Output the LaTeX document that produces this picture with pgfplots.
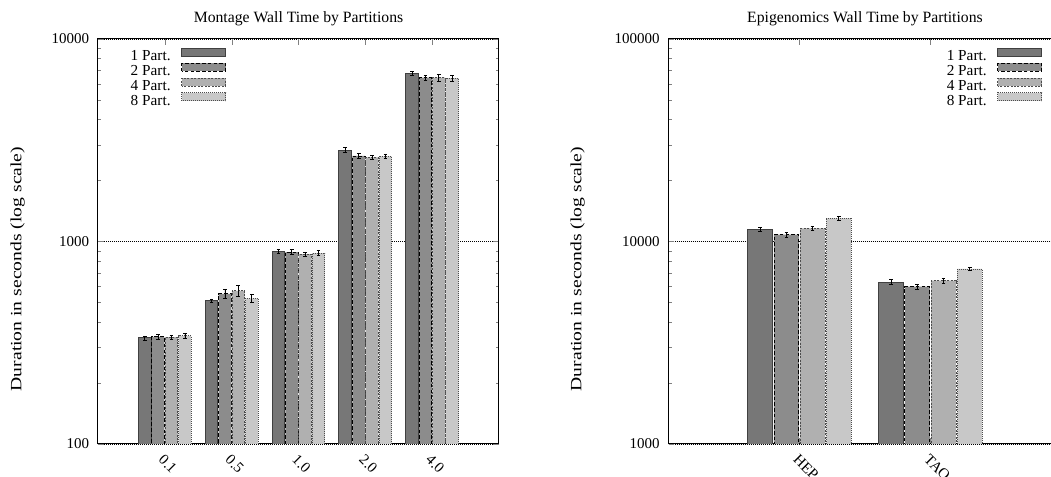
\documentclass[border=0pt]{standalone}
\usepackage{fontspec}
\setmainfont{Liberation Serif}
\usepackage{pgfplots}
\pgfplotsset{compat=1.18}

\definecolor{cA}{HTML}{777777}
\definecolor{cB}{HTML}{8C8C8C}
\definecolor{cC}{HTML}{B0B0B0}
\definecolor{cD}{HTML}{C8C8C8}

\tikzset{
  s1/.style={fill=cA, draw=black!75, solid, line width=0.7pt},
  s2/.style={fill=cB, draw=black, dash pattern=on 2.5pt off 1.5pt, line width=0.6pt},
  s3/.style={fill=cC, draw=black!70, dash pattern=on 1.4pt off 1pt, line width=0.6pt},
  s4/.style={fill=cD, draw=black!70, dash pattern=on 0.6pt off 0.8pt, line width=0.6pt},
}

\begin{document}
\begin{tikzpicture}
\begin{axis}[
  scale only axis,
  at={(68.6pt,23.1pt)}, anchor=south west,
  width=280.7pt, height=283.5pt,
  ymode=log,
  ybar, bar width=0.19,
  xmin=-1, xmax=5,
  ymin=100, ymax=10000,
  axis line style={line width=0.7pt},
  major tick length=4pt, minor tick length=2.2pt,
  ymajorgrids,
  major grid style={densely dotted, line width=0.5pt, black},
  xtick={0,1,2,3,4},
  xticklabels={0.1,0.5,1.0,2.0,4.0},
  ytick={100,1000,10000},
  yticklabels={100,1000,10000},
  minor ytick={200,300,400,500,600,700,800,900,2000,3000,4000,5000,6000,7000,8000,9000},
  xtick pos=both, ytick pos=both, tick align=inside,
  tick label style={font=\fontsize{10.5}{12}\selectfont},
  xticklabel style={anchor=north west, inner sep=0pt, yshift=-6.5pt, xshift=0pt, rotate=-45},
  yticklabel style={xshift=-2.7pt},
  title={Montage Wall Time by Partitions},
  title style={at={(0.5,1)}, anchor=south, inner sep=0pt, yshift=3.2pt, font=\fontsize{11}{13}\selectfont},
  ylabel={Duration in seconds (log scale)},
  ylabel style={at={(0,0.432)}, anchor=center, yshift=56.35pt, font=\fontsize{11}{13}\selectfont, xscale=1.25},
  legend plot pos=right,
  legend cell align=right,
  legend style={at={(0.319,0.973)}, anchor=north east, draw=none, fill=none, inner sep=0pt, row sep=0pt,
    font=\fontsize{10.7}{12}\selectfont,
    nodes={font=\fontsize{10.7}{12}\selectfont, inner ysep=0.5pt, inner xsep=3.5pt, text height=7.0pt, text depth=2.35pt}},
]
\addplot[s1, bar shift=-0.3, legend image code/.code={\path[draw=none,fill=none] (-4.2pt,3.6pt) -- (30.8pt,3.6pt); \draw[s1,overlay] (0pt,0.8pt) rectangle (30.8pt,6.4pt);},
  error bars/.cd, y dir=both, y explicit, error bar style={solid, black, line width=0.5pt},
  error mark options={solid, black, rotate=90, mark size=1.3pt, line width=0.5pt}] coordinates {
  (0,334) +- (0,8) (1,510) +- (0,10) (2,891) +- (0,20) (3,2830) +- (0,80) (4,6770) +- (0,170)};
\addplot[s2, bar shift=-0.1, legend image code/.code={\path[draw=none,fill=none] (-4.2pt,3.6pt) -- (30.8pt,3.6pt); \draw[s2,overlay] (0pt,0.8pt) rectangle (30.8pt,6.4pt);},
  error bars/.cd, y dir=both, y explicit, error bar style={solid, black, line width=0.5pt},
  error mark options={solid, black, rotate=90, mark size=1.3pt, line width=0.5pt}] coordinates {
  (0,338) +- (0,8) (1,551) +- (0,30) (2,887) +- (0,25) (3,2644) +- (0,70) (4,6440) +- (0,200)};
\addplot[s3, bar shift=0.1, legend image code/.code={\path[draw=none,fill=none] (-4.2pt,3.6pt) -- (30.8pt,3.6pt); \draw[s3,overlay] (0pt,0.8pt) rectangle (30.8pt,6.4pt);},
  error bars/.cd, y dir=both, y explicit, error bar style={solid, black, line width=0.5pt},
  error mark options={solid, black, rotate=90, mark size=1.3pt, line width=0.5pt}] coordinates {
  (0,337) +- (0,7) (1,571) +- (0,35) (2,867) +- (0,20) (3,2605) +- (0,60) (4,6440) +- (0,250)};
\addplot[s4, bar shift=0.3, legend image code/.code={\path[draw=none,fill=none] (-4.2pt,3.6pt) -- (30.8pt,3.6pt); \draw[s4,overlay] (0pt,0.8pt) rectangle (30.8pt,6.4pt);},
  error bars/.cd, y dir=both, y explicit, error bar style={solid, black, line width=0.5pt},
  error mark options={solid, black, rotate=90, mark size=1.3pt, line width=0.5pt}] coordinates {
  (0,342) +- (0,8) (1,524) +- (0,25) (2,877) +- (0,25) (3,2635) +- (0,70) (4,6400) +- (0,200)};
\legend{1 Part.,2 Part.,4 Part.,8 Part.}
\end{axis}

\begin{axis}[
  scale only axis,
  at={(468.0pt,23.1pt)}, anchor=south west,
  width=274.96pt, height=283.5pt,
  ymode=log,
  ybar, bar width=0.19,
  xmin=-1, xmax=2,
  ymin=1000, ymax=100000,
  axis line style={line width=0.7pt},
  major tick length=4pt, minor tick length=2.2pt,
  ymajorgrids,
  major grid style={densely dotted, line width=0.5pt, black},
  xtick={0,1},
  xticklabels={HEP,TAO},
  ytick={1000,10000,100000},
  yticklabels={1000,10000,100000},
  minor ytick={2000,3000,4000,5000,6000,7000,8000,9000,20000,30000,40000,50000,60000,70000,80000,90000},
  xtick pos=both, ytick pos=both, tick align=inside,
  tick label style={font=\fontsize{10.5}{12}\selectfont},
  xticklabel style={anchor=north west, inner sep=0pt, yshift=-6.5pt, xshift=0pt, rotate=-45},
  yticklabel style={xshift=-2.7pt},
  title={Epigenomics Wall Time by Partitions},
  title style={at={(0.5,1)}, anchor=south, inner sep=0pt, yshift=3.2pt, font=\fontsize{11}{13}\selectfont},
  ylabel={Duration in seconds (log scale)},
  ylabel style={at={(0,0.432)}, anchor=center, yshift=63.75pt, font=\fontsize{11}{13}\selectfont, xscale=1.25},
  legend plot pos=right,
  legend cell align=right,
  legend style={at={(0.9506,0.973)}, anchor=north east, draw=none, fill=none, inner sep=0pt, row sep=0pt,
    font=\fontsize{10.7}{12}\selectfont,
    nodes={font=\fontsize{10.7}{12}\selectfont, inner ysep=0.5pt, inner xsep=3.5pt, text height=7.0pt, text depth=2.35pt}},
]
\addplot[s1, bar shift=-0.3, legend image code/.code={\path[draw=none,fill=none] (-4.2pt,3.6pt) -- (30.8pt,3.6pt); \draw[s1,overlay] (0pt,0.8pt) rectangle (30.8pt,6.4pt);},
  error bars/.cd, y dir=both, y explicit, error bar style={solid, black, line width=0.5pt},
  error mark options={solid, black, rotate=90, mark size=1.3pt, line width=0.5pt}] coordinates {
  (0,11480) +- (0,300) (1,6290) +- (0,180)};
\addplot[s2, bar shift=-0.1, legend image code/.code={\path[draw=none,fill=none] (-4.2pt,3.6pt) -- (30.8pt,3.6pt); \draw[s2,overlay] (0pt,0.8pt) rectangle (30.8pt,6.4pt);},
  error bars/.cd, y dir=both, y explicit, error bar style={solid, black, line width=0.5pt},
  error mark options={solid, black, rotate=90, mark size=1.3pt, line width=0.5pt}] coordinates {
  (0,10800) +- (0,300) (1,5980) +- (0,170)};
\addplot[s3, bar shift=0.1, legend image code/.code={\path[draw=none,fill=none] (-4.2pt,3.6pt) -- (30.8pt,3.6pt); \draw[s3,overlay] (0pt,0.8pt) rectangle (30.8pt,6.4pt);},
  error bars/.cd, y dir=both, y explicit, error bar style={solid, black, line width=0.5pt},
  error mark options={solid, black, rotate=90, mark size=1.3pt, line width=0.5pt}] coordinates {
  (0,11620) +- (0,250) (1,6410) +- (0,200)};
\addplot[s4, bar shift=0.3, legend image code/.code={\path[draw=none,fill=none] (-4.2pt,3.6pt) -- (30.8pt,3.6pt); \draw[s4,overlay] (0pt,0.8pt) rectangle (30.8pt,6.4pt);},
  error bars/.cd, y dir=both, y explicit, error bar style={solid, black, line width=0.5pt},
  error mark options={solid, black, rotate=90, mark size=1.3pt, line width=0.5pt}] coordinates {
  (0,13020) +- (0,250) (1,7320) +- (0,150)};
\legend{1 Part.,2 Part.,4 Part.,8 Part.}
\end{axis}
\pgfresetboundingbox
\useasboundingbox (0,0) rectangle (735.7pt,333.9pt);
\end{tikzpicture}
\end{document}
